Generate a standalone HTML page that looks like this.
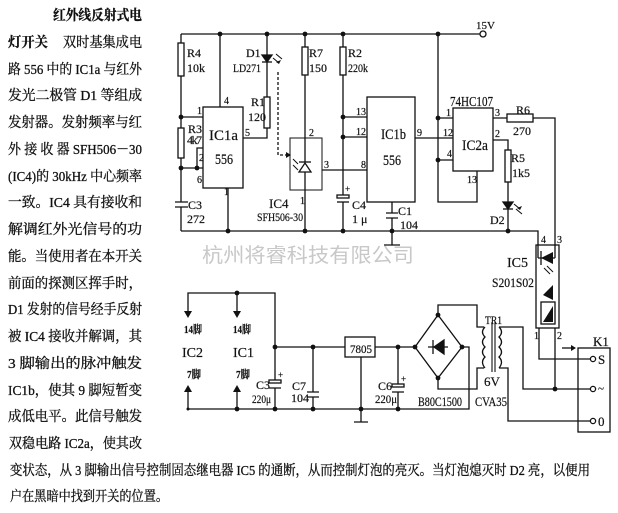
<!DOCTYPE html>
<html><head><meta charset="utf-8"><style>
html,body{margin:0;padding:0;background:#fff;}
svg{display:block;}
.t{font-family:"Liberation Serif","Noto Serif CJK SC",serif;font-size:14px;fill:#111;stroke:#111;stroke-width:0.3;}
.b{font-weight:bold;}
.l{font-family:"Liberation Serif","Noto Serif CJK SC",serif;fill:#111;stroke:#111;stroke-width:0.2;}
</style></head><body>
<svg width="618" height="513" viewBox="0 0 618 513" xmlns="http://www.w3.org/2000/svg">
<rect width="618" height="513" fill="#fff"/>
<!-- text column -->
<text class="t b" x="53" y="20" textLength="89" lengthAdjust="spacingAndGlyphs">红外线反射式电</text>
<text class="t b" x="8" y="47" textLength="40" lengthAdjust="spacingAndGlyphs">灯开关</text>
<text class="t" x="63" y="47" textLength="79" lengthAdjust="spacingAndGlyphs">双时基集成电</text>
<text class="t" x="8" y="74" textLength="134" lengthAdjust="spacingAndGlyphs">路 556 中的 IC1a 与红外</text>
<text class="t" x="8" y="100" textLength="134" lengthAdjust="spacingAndGlyphs">发光二极管 D1 等组成</text>
<text class="t" x="8" y="127" textLength="134" lengthAdjust="spacingAndGlyphs">发射器。发射频率与红</text>
<text class="t" x="8" y="154" textLength="134" lengthAdjust="spacingAndGlyphs">外 接 收 器 SFH506－30</text>
<text class="t" x="8" y="181" textLength="134" lengthAdjust="spacingAndGlyphs">(IC4)的 30kHz 中心频率</text>
<text class="t" x="8" y="207" textLength="134" lengthAdjust="spacingAndGlyphs">一致。IC4 具有接收和</text>
<text class="t" x="8" y="234" textLength="134" lengthAdjust="spacingAndGlyphs">解调红外光信号的功</text>
<text class="t" x="8" y="261" textLength="134" lengthAdjust="spacingAndGlyphs">能。当使用者在本开关</text>
<text class="t" x="8" y="288" textLength="134" lengthAdjust="spacingAndGlyphs">前面的探测区挥手时，</text>
<text class="t" x="8" y="314" textLength="134" lengthAdjust="spacingAndGlyphs">D1 发射的信号经手反射</text>
<text class="t" x="8" y="341" textLength="134" lengthAdjust="spacingAndGlyphs">被 IC4 接收并解调，其</text>
<text class="t" x="8" y="368" textLength="134" lengthAdjust="spacingAndGlyphs">3 脚输出的脉冲触发</text>
<text class="t" x="8" y="395" textLength="134" lengthAdjust="spacingAndGlyphs">IC1b，使其 9 脚短暂变</text>
<text class="t" x="8" y="421" textLength="134" lengthAdjust="spacingAndGlyphs">成低电平。此信号触发</text>
<text class="t" x="9" y="448" textLength="133" lengthAdjust="spacingAndGlyphs">双稳电路 IC2a，使其改</text>
<text class="t" x="10" y="475" textLength="580" lengthAdjust="spacingAndGlyphs">变状态，从 3 脚输出信号控制固态继电器 IC5 的通断，从而控制灯泡的亮灭。当灯泡熄灭时 D2 亮，以便用</text>
<text class="t" x="10" y="501" textLength="158" lengthAdjust="spacingAndGlyphs">户在黑暗中找到开关的位置。</text>

<!-- watermark -->
<text x="202" y="262" font-family="'Noto Sans CJK SC',sans-serif" font-size="20" fill="#c8c8c8" textLength="212" lengthAdjust="spacingAndGlyphs">杭州将睿科技有限公司</text>

<g stroke="#111" stroke-width="1.3" fill="none">
<!-- top rail -->
<path d="M181,34 H480"/>
<!-- left chain -->
<path d="M181,34 V43 M181,76 V128 M181,158 V202 M181,207 V231"/>
<rect x="178" y="43" width="6" height="33"/>
<rect x="178" y="128" width="6" height="30"/>
<path d="M175,202 H188 M175,207 H188"/>
<!-- bottom rail -->
<path d="M181,231 H538 V258"/>
<!-- IC1a -->
<rect x="203" y="107" width="40" height="81"/>
<path d="M181,117 H203 M220,34 V107 M203,148 H197 V168 M181,168 H203 M228,188 V231"/>
<path d="M243,138 H267 V128 M267,97 V62 M267,55 V34"/>
<rect x="264" y="97" width="6" height="31"/>
<path d="M262,62 H272"/>
<polygon points="262,55 272,55 267,62" fill="#111"/>
<path d="M273,58 L279,63 M276,54 L282,59" stroke-width="1.1"/>
<!-- dashed IR path -->
<path d="M278,72 V155 H287" stroke-dasharray="3,2"/>
<!-- IC4 -->
<rect x="290" y="138" width="32" height="52" stroke-width="1"/>
<path d="M305,34 V47 M305,75 V162 M305,172 V231"/>
<rect x="302" y="47" width="6" height="28"/>
<path d="M299,162 H311"/>
<polygon points="299,172 311,172 305,163" fill="none"/>
<path d="M293,159 L298,164 M293,165 L298,170" stroke-width="1"/>
<path d="M322,170 H367"/>
<!-- R2 / C4 -->
<path d="M343,34 V47 M343,75 V195 M343,202 V231"/>
<rect x="340" y="47" width="6" height="28"/>
<rect x="337" y="195" width="12" height="3"/>
<path d="M337,202 H349"/>
<path d="M343,117 H367 M343,137 H367"/>
<!-- IC1b -->
<rect x="367" y="97" width="48" height="105"/>
<path d="M415,138 H453"/>
<path d="M392,202 V213 M386,213 H398 M386,218 H398 M392,218 V245 M384,245 H400"/>
<!-- IC2a -->
<rect x="453" y="108" width="40" height="63"/>
<path d="M438,34 V202 H477 V171 M438,118 H453 M438,160 H453"/>
<path d="M493,118 H507 M533,118 H555 V258"/>
<rect x="507" y="114" width="26" height="8"/>
<path d="M493,140 H508 V150 M508,182 V202 M508,209 V231"/>
<rect x="505" y="150" width="6" height="32"/>
<path d="M503,209 H513"/>
<polygon points="503,202 513,202 508,209" fill="#111"/>
<path d="M514,204 L520,209 M516,209 L522,214" stroke-width="1.1"/>
<circle cx="483" cy="34" r="3" fill="#fff"/>
<!-- IC5 -->
<rect x="536" y="245" width="23" height="83"/>
<path d="M538,258 H555"/>
<polygon points="541,258 553,252 553,264" fill="#111" stroke="none"/>
<path d="M541,251 V265"/>
<path d="M544,268 L550,274 M547,266 L553,272" stroke-width="1"/>
<polygon points="543,295 553,285 553,300" fill="#111" stroke="none"/>
<rect x="541" y="302" width="14" height="22"/>
<polygon points="543,322 553,306 553,322" fill="#111" stroke="none"/>
<path d="M539,328 V359 H590 M555,328 V389"/>

<!-- lower section -->
<path d="M188,314 V293 H275 V380 M237,293 V314"/>
<path d="M188,409 V390 M237,409 V390"/>
<path d="M188,409 H469 V347 H462"/>
<rect x="269" y="380" width="12" height="3"/>
<path d="M269,388 H281 M275,388 V409"/>
<path d="M275,347 H345 M313,347 V392 M307,392 H319 M307,397 H319 M313,397 V409"/>
<rect x="345" y="337" width="30" height="20"/>
<path d="M375,347 H415 M361,357 V422 M354,422 H368"/>
<path d="M398,347 V384 M392,392 H404 M398,392 V409"/>
<rect x="392" y="384" width="12" height="3"/>
<!-- bridge -->
<polygon points="438,315 462,347 438,378 415,347"/>
<path d="M428,347 H448 M433,340 V354"/>
<polygon points="444,340 444,354 434,347" fill="#111"/>
<path d="M438,315 V305 H477 V327 H484"/>
<path d="M484,368 H477 V389 H438 V378"/>
<!-- transformer -->
<path d="M485,327 q-5,5 0,10 q-5,5 0,10 q-5,5 0,10 q-5,5 0,11"/>
<path d="M492,322 V372 M495,322 V372" stroke-width="1.1"/>
<path d="M499,327 q5,5 0,10 q5,5 0,10 q5,5 0,10 q5,5 0,11"/>
<path d="M499,327 H523 V389 H590 M499,368 H508 V421 H590"/>
<!-- K1 -->
<rect x="578" y="348" width="32" height="84"/>
<circle cx="593" cy="359" r="2.6" fill="#fff"/>
<circle cx="593" cy="389" r="2.6" fill="#fff"/>
<circle cx="593" cy="421" r="2.6" fill="#fff"/>
<path d="M562,348 H572"/>
</g>
<!-- arrowheads -->
<g fill="#111">
<polygon points="286,152 291,155 286,158"/>
<polygon points="184,311 192,311 188,318"/>
<polygon points="233,311 241,311 237,318"/>
<polygon points="184,392 192,392 188,385"/>
<polygon points="233,392 241,392 237,385"/>
<polygon points="571,345 576,348 571,351"/>
<polygon points="279,64 281,60 276,62"/>
<polygon points="520,210 522,206 517,208"/>
</g>
<!-- junction dots -->
<g fill="#111">
<circle cx="220" cy="34" r="2.4"/><circle cx="267" cy="34" r="2.4"/><circle cx="305" cy="34" r="2.4"/><circle cx="343" cy="34" r="2.4"/><circle cx="438" cy="34" r="2.4"/>
<circle cx="181" cy="117" r="2.4"/><circle cx="181" cy="168" r="2.4"/><circle cx="197" cy="168" r="2.4"/>
<circle cx="228" cy="231" r="2.4"/><circle cx="305" cy="231" r="2.4"/><circle cx="343" cy="231" r="2.4"/><circle cx="392" cy="231" r="2.4"/><circle cx="508" cy="231" r="2.4"/>
<circle cx="343" cy="117" r="2.4"/><circle cx="343" cy="137" r="2.4"/><circle cx="438" cy="118" r="2.4"/><circle cx="438" cy="160" r="2.4"/>
<circle cx="237" cy="293" r="2.4"/><circle cx="237" cy="409" r="2.4"/><circle cx="188" cy="409" r="1.5"/><circle cx="275" cy="409" r="2.4"/><circle cx="275" cy="347" r="2.4"/>
<circle cx="313" cy="347" r="2.4"/><circle cx="313" cy="409" r="2.4"/><circle cx="361" cy="409" r="2.4"/><circle cx="398" cy="347" r="2.4"/><circle cx="398" cy="409" r="2.4"/>
<circle cx="438" cy="315" r="2.4"/><circle cx="415" cy="347" r="2.4"/><circle cx="462" cy="347" r="2.4"/><circle cx="438" cy="378" r="2.4"/><circle cx="555" cy="389" r="2.4"/>
</g>

<!-- labels -->
<g class="l" font-size="12">
<text x="187" y="57">R4</text><text x="187" y="72">10k</text>
<text x="188" y="133">R3</text><text x="187" y="144" textLength="15">4k7</text>
<text x="188" y="209">C3</text><text x="187" y="223">272</text>
<text x="246" y="57">D1</text><text x="233" y="72" textLength="28" lengthAdjust="spacingAndGlyphs">LD271</text>
<text x="251" y="106">R1</text><text x="248" y="121">120</text>
<text x="309" y="57">R7</text><text x="309" y="72">150</text>
<text x="348" y="57">R2</text><text x="348" y="72" textLength="20" lengthAdjust="spacingAndGlyphs">220k</text>
<text x="352" y="209">C4</text><text x="352" y="223">1 μ</text>
<text x="398" y="215">C1</text><text x="400" y="229">104</text>
<text x="269" y="208" font-size="13">IC4</text>
<text x="257" y="221" textLength="46" lengthAdjust="spacingAndGlyphs">SFH506-30</text>
<text x="476" y="29" font-size="11">15V</text>
<text x="450" y="106" font-size="14" textLength="43" lengthAdjust="spacingAndGlyphs">74HC107</text>
<text x="516" y="114">R6</text><text x="513" y="135">270</text>
<text x="511" y="162">R5</text><text x="512" y="177">1k5</text>
<text x="490" y="224">D2</text>
<text x="507" y="267" font-size="14">IC5</text>
<text x="492" y="287" font-size="13" textLength="42" lengthAdjust="spacingAndGlyphs">S201S02</text>
<text x="593" y="346" font-size="13">K1</text>
<text x="598" y="364" font-size="13">S</text>
<text x="598" y="392" font-size="11">~</text>
<text x="598" y="426" font-size="13">0</text>
<text x="485" y="324" textLength="17" lengthAdjust="spacingAndGlyphs">TR1</text>
<text x="484" y="386" font-size="13">6V</text>
<text x="475" y="406" font-size="13" textLength="32" lengthAdjust="spacingAndGlyphs">CVA35</text>
<text x="418" y="406" font-size="13" textLength="44" lengthAdjust="spacingAndGlyphs">B80C1500</text>
<text x="350" y="353" font-size="12" textLength="22" lengthAdjust="spacingAndGlyphs">7805</text>
<text x="256" y="389">C3</text><text x="252" y="403" textLength="19" lengthAdjust="spacingAndGlyphs">220μ</text>
<text x="292" y="390">C7</text><text x="291" y="402">104</text>
<text x="378" y="390">C6</text><text x="375" y="403" textLength="22" lengthAdjust="spacingAndGlyphs">220μ</text>
<text x="182" y="357" font-size="14">IC2</text>
<text x="233" y="357" font-size="14">IC1</text>
</g>
<g class="l b" font-size="11">
<text x="184" y="333" textLength="18" lengthAdjust="spacingAndGlyphs">14脚</text>
<text x="233" y="333" textLength="18" lengthAdjust="spacingAndGlyphs">14脚</text>
<text x="187" y="378" textLength="14" lengthAdjust="spacingAndGlyphs">7脚</text>
<text x="236" y="378" textLength="14" lengthAdjust="spacingAndGlyphs">7脚</text>
</g>
<g class="l" font-size="15">
<text x="209" y="140" textLength="29" lengthAdjust="spacingAndGlyphs">IC1a</text>
<text x="215" y="164" textLength="18" lengthAdjust="spacingAndGlyphs">556</text>
<text x="381" y="139" textLength="25" lengthAdjust="spacingAndGlyphs">IC1b</text>
<text x="383" y="165" textLength="18" lengthAdjust="spacingAndGlyphs">556</text>
<text x="462" y="150" textLength="26" lengthAdjust="spacingAndGlyphs">IC2a</text>
</g>
<g class="l" font-size="10">
<text x="197" y="114">1</text><text x="224" y="104">4</text><text x="199" y="161">2</text><text x="197" y="183">6</text><text x="224" y="195">1</text><text x="245" y="136">5</text>
<text x="309" y="136">2</text><text x="300" y="204">1</text><text x="324" y="168">3</text><text x="361" y="168">8</text>
<text x="356" y="115">13</text><text x="356" y="135">12</text><text x="417" y="136">9</text>
<text x="446" y="116">1</text><text x="443" y="136">12</text><text x="447" y="157">4</text><text x="467" y="183">13</text>
<text x="495" y="116">3</text><text x="495" y="137">2</text>
<text x="541" y="243">4</text><text x="557" y="243">3</text><text x="534" y="339">1</text><text x="557" y="339">2</text>
<text x="345" y="192" font-size="9">+</text><text x="278" y="378" font-size="9">+</text><text x="401" y="382" font-size="9">+</text>
</g>
</svg>
</body></html>
